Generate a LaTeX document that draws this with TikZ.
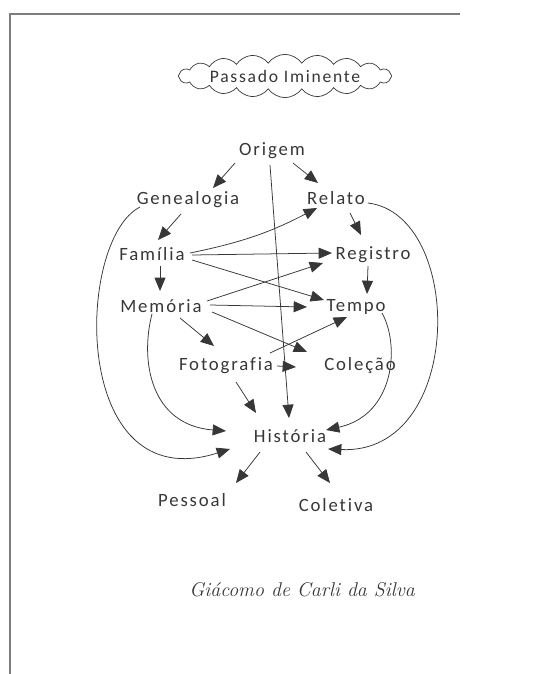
\documentclass[tikz,border=0pt]{standalone}
\usepackage{fontspec}
\usepackage{tikz}
\usetikzlibrary{arrows.meta,calc,positioning,shapes.symbols}
\newfontfamily\handfont{Carlito}[LetterSpace=10,Ligatures=NoCommon]
\definecolor{pencil}{RGB}{55,55,55}
\definecolor{pageedge}{RGB}{125,125,125}

\begin{document}
\begin{tikzpicture}[x=0.03cm, y=0.03cm,
    word/.style={text=pencil, font=\handfont\fontsize{16}{18}\selectfont, inner sep=2pt},
    titleword/.style={word, font=\handfont\fontsize{15}{17}\selectfont},
    titlecloud/.style={cloud, cloud ignores aspect, draw=pencil, cloud puffs=20, cloud puff arc=110,
        line width=0.6pt, inner sep=0pt, minimum width=6.4cm, minimum height=1.3cm},
    signature/.style={text=pencil, font=\fontsize{17}{20}\selectfont\itshape},
    line/.style={draw=pencil, line width=0.65pt, -{Triangle[length=4mm,width=3.3mm]}}
    ]
    \useasboundingbox (0,0) rectangle (547,-674);

    % Page edge
    \draw[pageedge, line width=1pt] (10,-674) -- (10,-14) -- (460,-14);

    % Nodes
    \node [titlecloud, label={[titleword]center:Passado Iminente}] (title) at (285,-76) {};
    \node [word] (orig) at (272,-151) {Origem};
    \node [word] (gen) at (188,-200) {Genealogia};
    \node [word] (rel) at (336,-198) {Relato};
    \node [word] (fam) at (152,-254) {Família};
    \node [word] (reg) at (373,-255) {Registro};
    \node [word] (mem) at (161,-306) {Memória};
    \node [word] (tmp) at (356,-307) {Tempo};
    \node [word] (foto) at (226,-366) {Fotografia};
    \node [word] (col) at (360,-366) {Coleção};
    \node [word] (hist) at (290,-436) {História};
    \node [word] (pes) at (192,-500) {Pessoal};
    \node [word] (colet) at (336,-505) {Coletiva};
    \node [signature] (sig) at (302,-590) {Giácomo de Carli da Silva};

    % Paths
    \draw[line] ($(orig)+(-37,-12)$) -- ($(gen)+(25,12)$);
    \draw[line] ($(orig)+(21,-12)$) -- ($(rel)+(-18,15)$);
    \draw[line] ($(orig)+(-2,-14)$) -- ($(hist)+(-1,18)$);
    \draw[line] ($(gen)+(-7,-14)$) -- ($(fam)+(6,14)$);
    \draw[line] ($(gen)+(-48,-7)$) .. controls (75,-240) and (70,-500) .. ($(hist)+(-60,-13)$);
    \draw[line] ($(rel)+(14,-15)$) -- ($(reg)+(-12,20)$);
    \draw[line] ($(rel)+(32,-5)$) .. controls (465,-215) and (465,-455) .. ($(hist)+(38,-13)$);
    \draw[line] ($(fam)+(8,-12)$) -- ($(mem)+(-1,15)$);
    \draw[line] ($(fam)+(38,1)$) to[bend right=8] ($(rel)+(-19,-10)$);
    \draw[line] ($(fam)+(40,-1)$) -- ($(reg)+(-41,2)$);
    \draw[line] ($(fam)+(40,-6)$) -- ($(tmp)+(-32,7)$);
    \draw[line] ($(reg)+(-5,-11)$) -- ($(tmp)+(11,13)$);
    \draw[line] ($(mem)+(46,5)$) -- ($(reg)+(-50,-8)$);
    \draw[line] ($(mem)+(49,1)$) -- ($(tmp)+(-49,0)$);
    \draw[line] ($(mem)+(51,-6)$) -- ($(col)+(-53,14)$);
    \draw[line] ($(mem)+(19,-12)$) -- ($(foto)+(-12,20)$);
    \draw[line] ($(mem)+(-9,-8)$) .. controls (140,-360) and (150,-425) .. ($(hist)+(-64,5)$);
    \draw[line] ($(foto)+(51,0)$) -- ($(col)+(-64,-1)$);
    \draw[line] ($(foto)+(44,13)$) -- ($(tmp)+(-9,-10)$);
    \draw[line] ($(foto)+(10,-16)$) -- ($(hist)+(-34,23)$);
    \draw[line] ($(tmp)+(26,-6)$) .. controls (400,-345) and (395,-415) .. ($(hist)+(36,6)$);
    \draw[line] ($(hist)+(-30,-16)$) -- ($(pes)+(44,17)$);
    \draw[line] ($(hist)+(16,-16)$) -- ($(colet)+(-6,22)$);
\end{tikzpicture}
\end{document}
